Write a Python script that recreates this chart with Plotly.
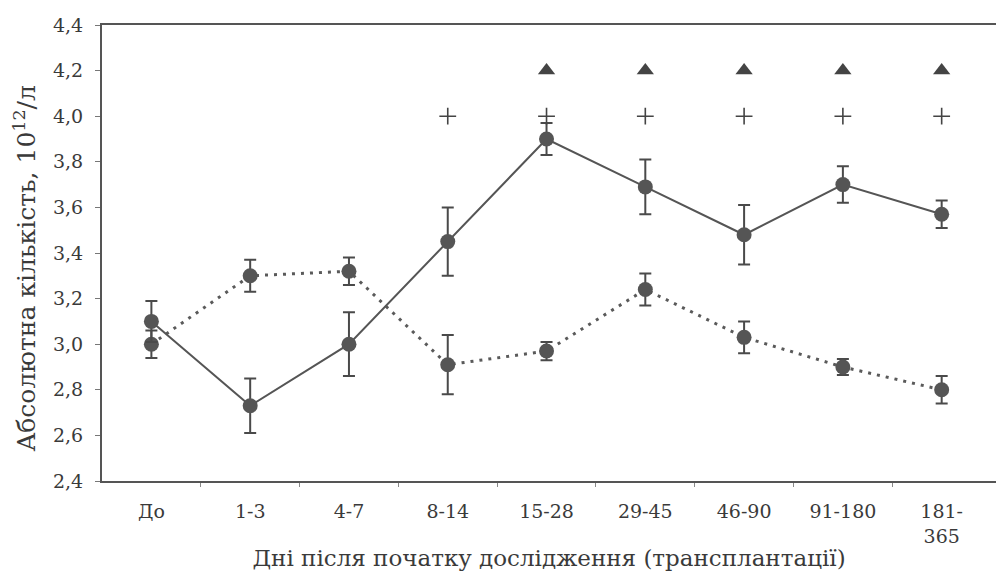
import plotly.graph_objects as go

categories = ["До", "1-3", "4-7", "8-14", "15-28", "29-45", "46-90", "91-180", "181-<br>365"]
solid_vals = [3.10, 2.73, 3.00, 3.45, 3.90, 3.69, 3.48, 3.70, 3.57]
solid_err = [0.09, 0.12, 0.14, 0.15, 0.07, 0.12, 0.13, 0.08, 0.06]
dotted_vals = [3.00, 3.30, 3.32, 2.91, 2.97, 3.24, 3.03, 2.90, 2.80]
dotted_err = [0.06, 0.07, 0.06, 0.13, 0.04, 0.07, 0.07, 0.035, 0.06]
plus_idx = [3, 4, 5, 6, 7, 8]
plus_level = [4.0] * len(plus_idx)
tri_idx = [4, 5, 6, 7, 8]
tri_level = [4.2] * len(tri_idx)
yticks = [2.4, 2.6, 2.8, 3.0, 3.2, 3.4, 3.6, 3.8, 4.0, 4.2, 4.4]
y_title = "Абсолютна кількість, 10<sup>12</sup>/л"
x_title = "Дні після початку дослідження (трансплантації)"

x = list(range(len(categories)))
ink = "#4a4a4a"
text_col = "#3a3a3a"
font_family = "DejaVu Serif"

fig = go.Figure()
fig.add_trace(go.Scatter(
    x=x, y=dotted_vals, mode="lines+markers",
    line=dict(color="#5a5a5a", width=3, dash="3px,6px"),
    marker=dict(size=15, color="#555555"),
    error_y=dict(type="data", array=dotted_err, color=ink, thickness=2, width=6),
    showlegend=False))
fig.add_trace(go.Scatter(
    x=x, y=solid_vals, mode="lines+markers",
    line=dict(color="#555555", width=2),
    marker=dict(size=15, color="#555555"),
    error_y=dict(type="data", array=solid_err, color=ink, thickness=2, width=6),
    showlegend=False))
fig.add_trace(go.Scatter(
    x=plus_idx, y=plus_level, mode="markers",
    marker=dict(symbol="cross-thin", size=12, line=dict(color="#444444", width=1.6)),
    showlegend=False))
fig.add_trace(go.Scatter(
    x=tri_idx, y=tri_level, mode="markers",
    marker=dict(symbol="triangle-up", size=15, color="#444444"),
    showlegend=False))

fig.update_layout(
    width=996, height=568,
    margin=dict(l=94, r=6, t=12, b=95),
    paper_bgcolor="white", plot_bgcolor="white",
    separators=", ",
    font=dict(family=font_family, size=19, color=text_col),
)
fig.add_annotation(
    text=y_title, textangle=-90, showarrow=False,
    xref="paper", yref="paper", x=-0.086, y=0.466,
    xanchor="center", yanchor="middle",
    font=dict(family=font_family, size=25, color=text_col),
)
fig.update_xaxes(
    range=[-0.5, 8.55],
    tickmode="array", tickvals=x, ticktext=categories,
    ticks="", showgrid=False, zeroline=False,
    showline=True, linecolor="#555555", linewidth=2, mirror=True,
    minor=dict(tickvals=[i + 0.5 for i in range(8)], ticks="outside", ticklen=4,
               tickcolor="#888888", tickwidth=1, showgrid=False),
    tickfont=dict(family=font_family, size=19, color=text_col),
    ticklabelstandoff=12,
    title=dict(text=x_title,
               font=dict(family=font_family, size=23, color=text_col), standoff=4),
)
fig.update_yaxes(
    range=[2.4, 4.4],
    tickmode="array", tickvals=yticks, tickformat=".1f",
    ticks="outside", ticklen=5, tickcolor="#777777", tickwidth=1,
    ticklabelstandoff=8,
    showgrid=False, zeroline=False,
    showline=True, linecolor="#555555", linewidth=2, mirror=True,
    tickfont=dict(family=font_family, size=19, color=text_col),
)

fig.write_html("out.html")
